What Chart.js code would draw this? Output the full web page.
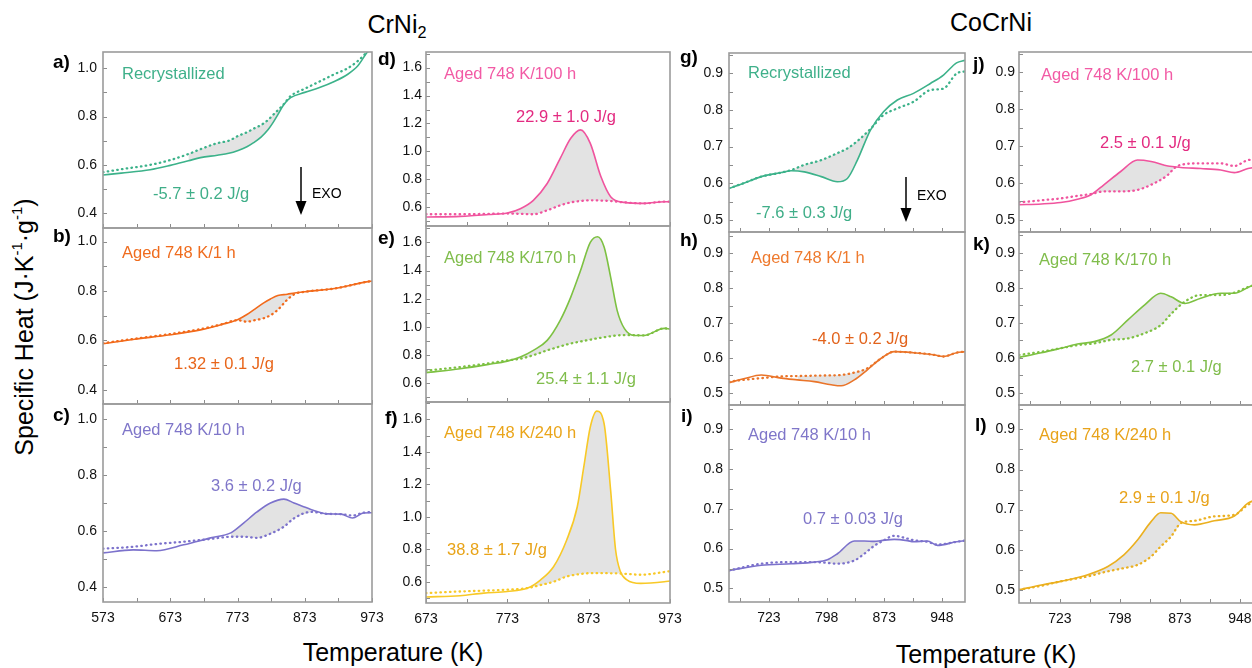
<!DOCTYPE html>
<html><head><meta charset="utf-8">
<script src="https://cdn.jsdelivr.net/npm/chart.js@4.4.1/dist/chart.umd.min.js"></script>
<style>
html,body{margin:0;padding:0;background:#fff}
body{position:relative;width:1252px;height:668px;overflow:hidden;font-family:"Liberation Sans",Arial,Helvetica,sans-serif;color:#111}
canvas{position:absolute}
.lbl{position:absolute;white-space:nowrap;font-size:16.5px;line-height:20px}
.let{position:absolute;white-space:nowrap;font-size:19px;font-weight:bold;line-height:22px;color:#000}
.hdr{position:absolute;width:200px;text-align:center;font-size:25px;line-height:30px;color:#000}
.ax{position:absolute;width:320px;text-align:center;font-size:25px;line-height:30px;color:#000;white-space:nowrap}
.exo{position:absolute;font-size:14px;line-height:16px;color:#000}
sup{font-size:0.6em;line-height:0;vertical-align:0.75em}
sub{font-size:0.65em;line-height:0;vertical-align:-0.3em}
svg{position:absolute;left:0;top:0}
</style></head><body>
<script>
// ---------------- DATA ----------------
// CrNi2 panels (a-f)
const tA = [573,600,643,673,700,718,743,760,774,787,797,808,818,827,833,842,852,873,895,917,937,952,967,975];
const solidA = [0.558,0.566,0.580,0.598,0.617,0.630,0.640,0.648,0.660,0.675,0.692,0.715,0.744,0.780,0.808,0.850,0.878,0.900,0.920,0.945,0.975,1.010,1.070,1.090];
const dottedA = [0.570,0.582,0.600,0.620,0.645,0.665,0.690,0.700,0.720,0.735,0.750,0.765,0.785,0.810,0.826,0.852,0.885,0.915,0.945,0.975,1.000,1.030,1.070,1.090];
const fillA = [700,842];

const tB = [573,620,673,718,750,773,787,797,812,822,833,847,858,873,917,967,973];
const solidB = [0.587,0.605,0.623,0.643,0.665,0.684,0.705,0.724,0.752,0.768,0.782,0.787,0.792,0.797,0.810,0.838,0.840];
const dottedB = [0.589,0.607,0.626,0.646,0.666,0.682,0.676,0.681,0.690,0.702,0.724,0.765,0.788,0.797,0.810,0.838,0.840];
const fillB = [773,858];

const tC = [573,618,653,693,733,763,782,802,822,842,857,882,907,927,944,960,973];
const solidC = [0.521,0.532,0.529,0.550,0.575,0.593,0.628,0.668,0.700,0.714,0.700,0.677,0.661,0.660,0.646,0.664,0.665];
const dottedC = [0.536,0.543,0.553,0.561,0.571,0.579,0.579,0.575,0.590,0.615,0.645,0.668,0.661,0.660,0.655,0.665,0.668];
const fillC = [763,882];

const tD = [673,715,750,773,789,805,822,838,851,863,875,888,900,917,941,966,973];
const solidD = [0.530,0.535,0.548,0.559,0.590,0.650,0.770,0.950,1.094,1.154,1.058,0.820,0.676,0.635,0.628,0.640,0.640];
const dottedD = [0.550,0.550,0.553,0.555,0.553,0.550,0.578,0.614,0.635,0.645,0.650,0.648,0.645,0.635,0.628,0.640,0.640];
const fillD = [773,917];

const tE = [673,715,750,773,789,805,822,838,851,863,875,884,892,900,908,917,929,941,966,973];
const solidE = [0.676,0.704,0.735,0.758,0.787,0.834,0.905,1.047,1.212,1.400,1.600,1.640,1.567,1.354,1.118,0.988,0.940,0.940,0.990,0.985];
const dottedE = [0.690,0.716,0.742,0.763,0.775,0.800,0.834,0.862,0.883,0.897,0.910,0.920,0.927,0.934,0.940,0.942,0.942,0.940,0.990,0.985];
const fillE = [773,929];

const tF = [673,715,744,773,798,814,830,846,859,867,875,883,892,900,906,912,920,937,966,973];
const solidF = [0.506,0.514,0.530,0.540,0.561,0.612,0.694,0.857,1.062,1.307,1.553,1.651,1.573,1.164,0.800,0.663,0.612,0.590,0.600,0.605];
const dottedF = [0.530,0.540,0.545,0.551,0.561,0.580,0.600,0.632,0.645,0.650,0.653,0.653,0.653,0.652,0.652,0.650,0.648,0.643,0.660,0.665];
const fillF = [798,912];

// CoCrNi panels (g-l)
const tG = [671,690,713,739,752,769,791,812,825,838,855,872,890,911,933,950,967,978];
const solidG = [0.586,0.600,0.618,0.629,0.634,0.631,0.618,0.604,0.613,0.663,0.745,0.795,0.827,0.845,0.872,0.895,0.928,0.935];
const dottedG = [0.586,0.600,0.618,0.629,0.636,0.650,0.663,0.682,0.695,0.715,0.748,0.786,0.804,0.822,0.854,0.858,0.899,0.905];
const fillG = [739,855];

const tH = [671,690,713,739,760,782,804,817,834,851,869,886,911,937,950,967,978];
const solidH = [0.529,0.540,0.551,0.542,0.537,0.532,0.523,0.520,0.537,0.566,0.599,0.618,0.615,0.609,0.604,0.615,0.618];
const dottedH = [0.532,0.537,0.542,0.547,0.548,0.549,0.550,0.551,0.558,0.570,0.599,0.618,0.615,0.609,0.604,0.615,0.618];
const fillH = [760,851];

const tI = [671,713,752,782,799,812,834,847,860,869,886,903,911,929,942,967,978];
const solidI = [0.545,0.558,0.562,0.566,0.572,0.587,0.619,0.619,0.618,0.620,0.623,0.620,0.617,0.619,0.608,0.617,0.620];
const dottedI = [0.545,0.562,0.566,0.566,0.564,0.562,0.570,0.587,0.607,0.617,0.632,0.625,0.621,0.617,0.610,0.617,0.620];
const fillI = [799,869];

const tJ = [672,700,724,745,762,778,799,820,837,858,866,874,899,924,941,958,978];
const solidJ = [0.541,0.543,0.547,0.556,0.568,0.595,0.631,0.662,0.658,0.646,0.644,0.642,0.639,0.635,0.628,0.639,0.645];
const dottedJ = [0.547,0.553,0.558,0.565,0.570,0.577,0.577,0.581,0.595,0.622,0.640,0.649,0.653,0.653,0.646,0.662,0.665];
const fillJ = [762,866];

const tK = [672,700,724,745,766,787,808,829,849,862,879,899,924,941,962,978];
const solidK = [0.601,0.614,0.627,0.639,0.646,0.665,0.708,0.751,0.784,0.774,0.755,0.770,0.784,0.784,0.805,0.812];
const dottedK = [0.608,0.617,0.627,0.636,0.641,0.651,0.655,0.670,0.693,0.725,0.760,0.779,0.779,0.786,0.805,0.812];
const fillK = [766,879];

const tL = [672,700,724,757,783,803,820,837,849,862,874,891,916,941,958,978];
const solidL = [0.500,0.512,0.521,0.537,0.558,0.587,0.624,0.670,0.692,0.691,0.670,0.662,0.672,0.684,0.716,0.730];
const dottedL = [0.500,0.510,0.521,0.533,0.546,0.554,0.562,0.583,0.608,0.633,0.666,0.672,0.683,0.687,0.712,0.730];
const fillL = [757,874];

// Tick values
const xTicksCrNi = [573,623,673,723,773,823,873,923,973];
const xLabelsCrNi1 = [573,673,773,873,973];
const xLabelsCrNi2 = [673,773,873,973];
const xTicksCoCrNi = [685.5,723,760.5,798,835.5,873,910.5,948];
const xLabelsCoCrNi = [723,798,873,948];
const yTicksCol1 = [0.4,0.5,0.6,0.7,0.8,0.9,1.0];
const yLabelsCol1 = [0.4,0.6,0.8,1.0];
const yTicksCol2 = [0.5,0.6,0.7,0.8,0.9,1.0,1.1,1.2,1.3,1.4,1.5,1.6,1.7];
const yLabelsCol2 = [0.6,0.8,1.0,1.2,1.4,1.6];
const yTicksCol3 = [0.5,0.55,0.6,0.65,0.7,0.75,0.8,0.85,0.9,0.95];
const yLabelsCol3 = [0.5,0.6,0.7,0.8,0.9];

const titles = ['Recrystallized','Aged 748 K/1 h','Aged 748 K/10 h','Aged 748 K/100 h','Aged 748 K/170 h','Aged 748 K/240 h'];
const enthalpies = ['-5.7 ± 0.2 J/g','1.32 ± 0.1 J/g','3.6 ± 0.2 J/g','22.9 ± 1.0 J/g','25.4 ± 1.1 J/g','38.8 ± 1.7 J/g',
                    '-7.6 ± 0.3 J/g','-4.0 ± 0.2 J/g','0.7 ± 0.03 J/g','2.5 ± 0.1 J/g','2.7 ± 0.1 J/g','2.9 ± 0.1 J/g'];

// ---------------- LAYOUT ----------------
const colX = [[103,372],[426,670],[729,965],[1019,1264]];
const rowY = [[52,228,404,602],[52,226,402,603],[53,232,405,602],[52,232,405,603]];
const xRange = [[573,973],[673,973],[671,978],[672,978]];
const xTickSets = [[xTicksCrNi,xLabelsCrNi1],[xTicksCrNi,xLabelsCrNi2],[xTicksCoCrNi,xLabelsCoCrNi],[xTicksCoCrNi,xLabelsCoCrNi]];
const yTickSets = [[yTicksCol1,yLabelsCol1],[yTicksCol2,yLabelsCol2],[yTicksCol3,yLabelsCol3],[yTicksCol3,yLabelsCol3]];
const yLabPad = [6,4,6,4];

const C = {
  teal:'#3cb28a', orange:'#f26a1b', orange2:'#ea7429', purple:'#7c72cc', pink:'#f0549e',
  green:'#7dc142', yellow:'#f8c927', yellow2:'#ebb020'
};

const panels = [
 {L:'a',c:0,r:0,t:tA,s:solidA,d:dottedA,f:fillA,y:[0.339,1.067],line:C.teal,tc:'#3fb08a',vc:'#3fae88',title:titles[0],tp:[122,73],vp:[153,193],lp:[53,64]},
 {L:'b',c:0,r:1,t:tB,s:solidB,d:dottedB,f:fillB,y:[0.343,1.055],line:C.orange,tc:'#ef6c1e',vc:'#e8651a',title:titles[1],tp:[122,252],vp:[174,363],lp:[53,238]},
 {L:'c',c:0,r:2,t:tC,s:solidC,d:dottedC,f:fillC,y:[0.345,1.055],line:C.purple,tc:'#7f76c9',vc:'#7f76c9',title:titles[2],tp:[122,429],vp:[211,485],lp:[53,417]},
 {L:'d',c:1,r:0,t:tD,s:solidD,d:dottedD,f:fillD,y:[0.466,1.712],line:C.pink,tc:'#f25aa5',vc:'#e32a80',title:titles[3],tp:[444,73],vp:[516,116],lp:[378,61]},
 {L:'e',c:1,r:1,t:tE,s:solidE,d:dottedE,f:fillE,y:[0.468,1.716],line:C.green,tc:'#80bd4c',vc:'#80bd4c',title:titles[4],tp:[444,257],vp:[536,378],lp:[378,240]},
 {L:'f',c:1,r:2,t:tF,s:solidF,d:dottedF,f:fillF,y:[0.469,1.707],line:C.yellow,tc:'#eaa51a',vc:'#e8a317',title:titles[5],tp:[444,432],vp:[447,549],lp:[385,420]},
 {L:'g',c:2,r:0,t:tG,s:solidG,d:dottedG,f:fillG,y:[0.467,0.955],line:C.teal,tc:'#3fb08a',vc:'#3fae88',title:titles[0],tp:[748,72],vp:[756,212],lp:[680,59]},
 {L:'h',c:2,r:1,t:tH,s:solidH,d:dottedH,f:fillH,y:[0.465,0.961],line:C.orange2,tc:'#ee7a2e',vc:'#e2631c',title:titles[1],tp:[751,257],vp:[812,338],lp:[680,242]},
 {L:'i',c:2,r:2,t:tI,s:solidI,d:dottedI,f:fillI,y:[0.466,0.960],line:C.purple,tc:'#7f76c9',vc:'#7f76c9',title:titles[2],tp:[748,434],vp:[803,518],lp:[681,418]},
 {L:'j',c:3,r:0,t:tJ,s:solidJ,d:dottedJ,f:fillJ,y:[0.467,0.955],line:C.pink,tc:'#f25aa5',vc:'#e32a80',title:titles[3],tp:[1041,74],vp:[1100,142],lp:[973,66]},
 {L:'k',c:3,r:1,t:tK,s:solidK,d:dottedK,f:fillK,y:[0.465,0.959],line:C.green,tc:'#80bd4c',vc:'#80bd4c',title:titles[4],tp:[1039,259],vp:[1131,366],lp:[973,246]},
 {L:'l',c:3,r:2,t:tL,s:solidL,d:dottedL,f:fillL,y:[0.467,0.961],line:C.yellow2,tc:'#e8a31a',vc:'#e8a31a',title:titles[5],tp:[1039,434],vp:[1119,497],lp:[975,427]}
];
panels.forEach((p,i)=>p.v = enthalpies[i]);

Chart.defaults.font.family = '"Liberation Sans", Arial, sans-serif';

const frame = {
  id:'frame',
  afterDraw(ch){
    const {ctx, chartArea:a, scales:{x,y}} = ch;
    ctx.save();
    ctx.strokeStyle = '#8c8c8c'; ctx.lineWidth = 1;
    x.ticks.forEach(t=>{const px = Math.round(x.getPixelForValue(t.value))+0.5; ctx.beginPath(); ctx.moveTo(px,a.bottom); ctx.lineTo(px,a.bottom-4); ctx.stroke();});
    y.ticks.forEach(t=>{const py = Math.round(y.getPixelForValue(t.value))+0.5; ctx.beginPath(); ctx.moveTo(a.left,py); ctx.lineTo(a.left+4,py); ctx.stroke();});
    ctx.strokeStyle = '#9b9b9b'; ctx.lineWidth = 1.6;
    ctx.strokeRect(a.left, a.top, a.right-a.left, a.bottom-a.top);
    ctx.restore();
  }
};

const LW = 44, PR = 16;
const near = (arr,v)=>arr.some(m=>Math.abs(m-v)<1e-6);

panels.forEach(p=>{
  const [x0,x1] = colX[p.c];
  const ry = rowY[p.c];
  const top = ry[p.r], bot = ry[p.r+1];
  const W = x1-x0, H = bot-top;
  const bottomRow = p.r===2;
  const XH = bottomRow ? 32 : 0;
  const cv = document.createElement('canvas');
  const cw = LW + W + PR, chh = 2 + H + (bottomRow ? XH : 2);
  cv.width = cw; cv.height = chh;
  cv.style.left = (x0-LW)+'px'; cv.style.top = (top-2)+'px';
  cv.style.width = cw+'px'; cv.style.height = chh+'px';
  document.body.appendChild(cv);

  const pts = arr => p.t.map((t,i)=>({x:t,y:arr[i]}));
  const inR = pt => pt.x>=p.f[0] && pt.x<=p.f[1];
  const [xt,xl] = xTickSets[p.c];
  const [yt,yl] = yTickSets[p.c];
  const base = {pointRadius:0, cubicInterpolationMode:'monotone'};

  new Chart(cv,{
    type:'line',
    data:{datasets:[
      Object.assign({data:pts(p.d), borderColor:p.line, borderWidth:2.3, borderDash:[0.5,4.3], borderCapStyle:'round', fill:false}, base),
      Object.assign({data:pts(p.s), borderColor:p.line, borderWidth:1.6, fill:false}, base),
      Object.assign({data:pts(p.s).filter(inR), borderColor:'transparent', borderWidth:0, backgroundColor:'#e3e3e3', fill:'+1'}, base),
      Object.assign({data:pts(p.d).filter(inR), borderColor:'transparent', borderWidth:0, fill:false}, base)
    ]},
    options:{
      responsive:false, animation:false, devicePixelRatio:1, events:[],
      layout:{padding:{left:0,top:2,right:PR,bottom:bottomRow?0:2}},
      plugins:{legend:{display:false}, tooltip:{enabled:false}, filler:{drawTime:'beforeDatasetsDraw'}},
      scales:{
        x:{type:'linear', min:xRange[p.c][0], max:xRange[p.c][1],
           afterBuildTicks:s=>{s.ticks = xt.filter(v=>v>=s.min&&v<=s.max).map(v=>({value:v}));},
           afterFit:s=>{s.height = XH; s.paddingLeft=0; s.paddingRight=0;},
           grid:{display:false, drawTicks:false}, border:{display:false},
           ticks:{display:bottomRow, autoSkip:false, maxRotation:0, padding:8, color:'#111', font:{size:14},
                  callback:v=>near(xl,v)?String(v):''}},
        y:{min:p.y[0], max:p.y[1],
           afterBuildTicks:s=>{s.ticks = yt.filter(v=>v>=s.min&&v<=s.max).map(v=>({value:v}));},
           afterFit:s=>{s.width = LW; s.paddingTop=0; s.paddingBottom=0;},
           grid:{display:false, drawTicks:false}, border:{display:false},
           ticks:{autoSkip:false, padding:yLabPad[p.c], color:'#111', font:{size:14},
                  callback:v=>near(yl,v)?v.toFixed(1):''}}
      }
    },
    plugins:[frame]
  });

  const mk = (cls, html, x, y, color)=>{const d=document.createElement('div'); d.className=cls; d.innerHTML=html; d.style.left=x+'px'; d.style.top=y+'px'; if(color) d.style.color=color; document.body.appendChild(d);};
  mk('lbl', p.title, p.tp[0], p.tp[1]-10, p.tc);
  mk('lbl', p.v, p.vp[0], p.vp[1]-10, p.vc);
  mk('let', p.L+')', p.lp[0], p.lp[1]-13);
});
</script>
<div class="hdr" style="left:297px;top:9px">CrNi<sub>2</sub></div>
<div class="hdr" style="left:891px;top:7px">CoCrNi</div>
<div class="ax" style="left:233px;top:637px">Temperature (K)</div>
<div class="ax" style="left:826px;top:639px">Temperature (K)</div>
<div class="ax" style="left:-136px;top:312px;transform:rotate(-90deg)">Specific Heat (J·K<sup>-1</sup>·g<sup>-1</sup>)</div>
<div class="exo" style="left:312px;top:185px">EXO</div>
<div class="exo" style="left:917px;top:187px">EXO</div>
<svg width="1252" height="668">
  <line x1="301" y1="167" x2="301" y2="204" stroke="#000" stroke-width="1.5"/>
  <polygon points="295.5,201 306.5,201 301,215" fill="#000"/>
  <line x1="906" y1="177" x2="906" y2="210" stroke="#000" stroke-width="1.5"/>
  <polygon points="900.5,208 911.5,208 906,222" fill="#000"/>
</svg>
</body></html>
